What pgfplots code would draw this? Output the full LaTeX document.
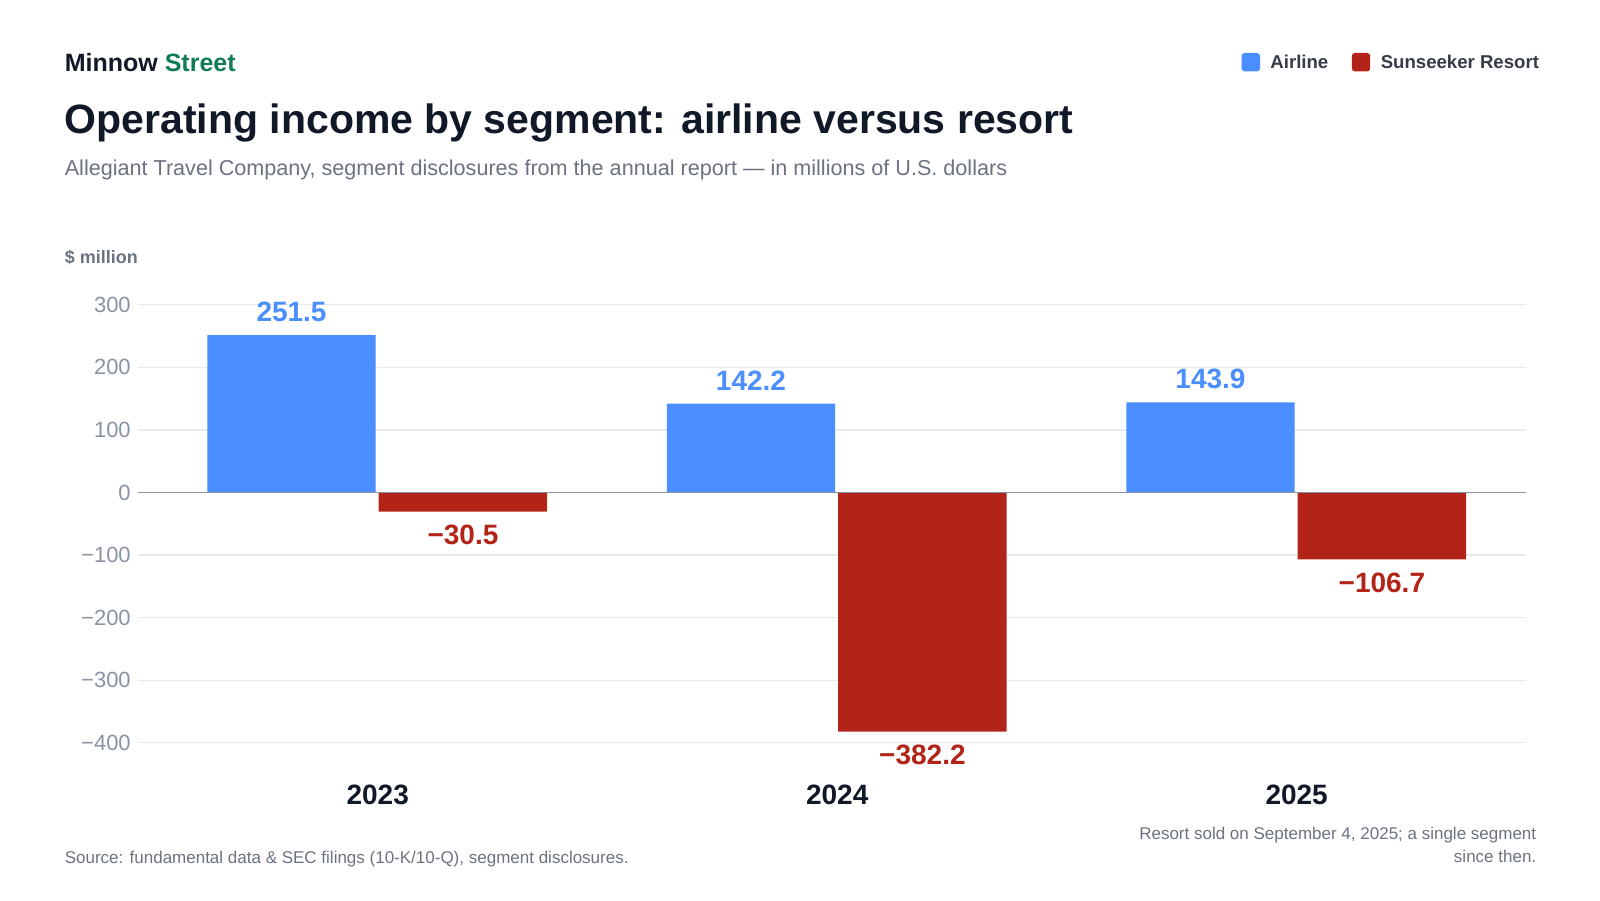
\documentclass[border=0pt]{standalone}
\usepackage{pgfplots}
\pgfplotsset{compat=1.18}
\usepackage{fontspec}
\setmainfont{Liberation Sans}
\definecolor{cblue}{HTML}{4A8EFF}
\definecolor{cred}{HTML}{B22418}
\definecolor{ink}{HTML}{111827}
\definecolor{gr}{HTML}{6B7280}
\definecolor{tick}{HTML}{8A93A3}
\definecolor{grn}{HTML}{0E7C55}
\definecolor{gridc}{HTML}{E8EAEE}
\begin{document}
\begin{tikzpicture}[x=1pt,y=1pt]
\path (0,0) rectangle (800,450);
\node[anchor=base west,font=\fontsize{12.5}{14}\selectfont\bfseries,text=ink,inner sep=0] at (32.2,414) {Minnow \textcolor{grn}{Street}};
\node[anchor=base west,font=\fontsize{20.5}{24}\selectfont\bfseries,text=ink,inner sep=0] at (32.2,383) {Operating income by segment: airline versus resort};
\node[anchor=base west,font=\fontsize{10.8}{12}\selectfont,text=gr,inner sep=0] at (32.2,362) {Allegiant Travel Company, segment disclosures from the annual report — in millions of U.S. dollars};
\node[anchor=base west,font=\fontsize{9}{11}\selectfont\bfseries,text=gr,inner sep=0] at (32.2,318) {\$ million};
\node[anchor=base west,font=\fontsize{8.5}{10}\selectfont,text=gr,inner sep=0] at (32.2,18.4) {Source: fundamental data \& SEC filings (10-K/10-Q), segment disclosures.};
\node[anchor=base east,align=right,font=\fontsize{8.5}{11.7}\selectfont,text=gr,inner sep=0] at (768.3,18.6) {Resort sold on September 4, 2025; a single segment\\since then.};
% legend
\fill[cblue,rounded corners=1.5pt] (620.8,414.3) rectangle (630,423.5);
\node[anchor=base west,font=\fontsize{9.3}{12}\selectfont\bfseries,text=ink!85,inner sep=0] at (635,415.5) {Airline};
\fill[cred,rounded corners=1.5pt] (675.9,414.3) rectangle (685.1,423.5);
\node[anchor=base west,font=\fontsize{9.3}{12}\selectfont\bfseries,text=ink!85,inner sep=0] at (690.2,415.5) {Sunseeker Resort};
\begin{axis}[at={(68.9pt,78.6pt)},anchor=south west,scale only axis,
 width=694.3pt,height=219pt,
 xmin=-0.5222,xmax=2.5,ymin=-400,ymax=300,clip=false,
 axis line style={draw=none},
 xtick={0,1,2},xticklabels={2023,2024,2025},
 x tick label style={font=\fontsize{14}{16}\selectfont\bfseries,text=ink,anchor=base,yshift=-31pt},
 ytick={-400,-300,-200,-100,0,100,200,300},
 yticklabels={−400,−300,−200,−100,0,100,200,300},
 y tick label style={font=\fontsize{11}{12}\selectfont,text=tick},
 major tick length=0pt,
 ymajorgrids,grid style={gridc,line width=0.6pt},
 point meta=explicit symbolic,
 nodes near coords,
]
\addplot[ybar,bar width=84.2pt,bar shift=-43.1pt,fill=cblue,draw=none,
 nodes near coords style={font=\fontsize{14}{16}\selectfont\bfseries,text=cblue,anchor=south,inner sep=2pt,xshift=-43.1pt,yshift=4.5pt}]
 coordinates {(0,251.5)[251.5] (1,142.2)[142.2] (2,143.9)[143.9]};
\addplot[ybar,bar width=84.2pt,bar shift=42.6pt,fill=cred,draw=none,
 nodes near coords style={font=\fontsize{14}{16}\selectfont\bfseries,text=cred,anchor=north,inner sep=2pt,xshift=42.6pt,yshift=-4.5pt}]
 coordinates {(0,-30.5)[−30.5] (1,-382.2)[−382.2] (2,-106.7)[−106.7]};
\draw[tick,line width=0.8pt] (axis cs:-0.5222,0) -- (axis cs:2.5,0);
\end{axis}
\end{tikzpicture}
\end{document}
